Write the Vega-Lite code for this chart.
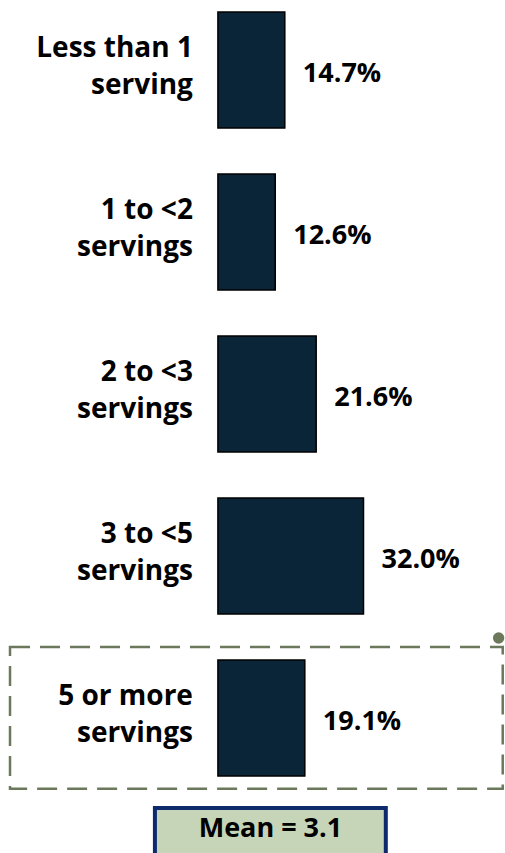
{
  "$schema": "https://vega.github.io/schema/vega-lite/v6.json",
  "padding": 0,
  "autosize": {"type": "pad"},
  "background": "white",
  "config": {"view": {"stroke": null}, "font": "Open Sans"},
  "spacing": 15,
  "vconcat": [
    {
      "width": 505,
      "height": 788,
      "data": {"values": [
        {"cat": "Less than 1|serving", "share": 0.147},
        {"cat": "1 to <2|servings", "share": 0.126},
        {"cat": "2 to <3|servings", "share": 0.216},
        {"cat": "3 to <5|servings", "share": 0.320},
        {"cat": "5 or more|servings", "share": 0.191}
      ]},
      "encoding": {
        "y": {"field": "cat", "type": "nominal", "axis": null,
              "sort": ["Less than 1|serving", "1 to <2|servings", "2 to <3|servings", "3 to <5|servings", "5 or more|servings"],
              "scale": {"paddingInner": 0.283, "paddingOuter": 0.074}}
      },
      "layer": [
        {
          "transform": [{"filter": "datum.cat === '5 or more|servings'"}],
          "mark": {"type": "bar", "height": {"band": 1.22}, "fill": "white", "fillOpacity": 0,
                   "stroke": "#6b785b", "strokeWidth": 2.5, "strokeDash": [20, 10]},
          "encoding": {
            "x": {"datum": -0.457, "type": "quantitative", "axis": null,
                  "scale": {"domain": [-0.479, 0.631], "nice": false}},
            "x2": {"datum": 0.626}
          }
        },
        {
          "transform": [{"filter": "datum.cat === '5 or more|servings'"}],
          "mark": {"type": "point", "filled": true, "size": 130, "color": "#6b785b", "opacity": 1, "yOffset": -80},
          "encoding": {
            "x": {"datum": 0.617, "type": "quantitative"}
          }
        },
        {
          "mark": {"type": "bar", "fill": "#0a2438", "stroke": "#000000", "strokeWidth": 1.5},
          "encoding": {
            "x": {"field": "share", "type": "quantitative"}
          }
        },
        {
          "mark": {"type": "text", "align": "left", "baseline": "middle", "dx": 18, "dy": 4,
                   "fontSize": 27, "fontWeight": "bold", "color": "#000000"},
          "encoding": {
            "x": {"field": "share", "type": "quantitative"},
            "text": {"field": "share", "type": "quantitative", "format": ".1%"}
          }
        },
        {
          "mark": {"type": "text", "align": "right", "baseline": "middle", "lineBreak": "|",
                   "lineHeight": 37, "fontSize": 28, "fontWeight": "bold", "color": "#000000", "dy": -21},
          "encoding": {
            "x": {"datum": -0.055, "type": "quantitative"},
            "text": {"field": "cat", "type": "nominal"}
          }
        }
      ]
    },
    {
      "width": 505,
      "height": 50,
      "data": {"values": [{"label": "Mean = 3.1"}]},
      "layer": [
        {
          "mark": {"type": "rect", "fill": "#c6d4b8", "stroke": "#0c2a6c", "strokeWidth": 4, "clip": true},
          "encoding": {
            "x": {"datum": -0.1385, "type": "quantitative", "axis": null,
                  "scale": {"domain": [-0.479, 0.631], "nice": false}},
            "x2": {"datum": 0.369},
            "y": {"datum": -0.5, "type": "quantitative", "axis": null,
                  "scale": {"domain": [0, 1], "nice": false}},
            "y2": {"datum": 0.96}
          }
        },
        {
          "mark": {"type": "text", "align": "center", "baseline": "middle", "fontSize": 27,
                   "fontWeight": "bold", "color": "#000000"},
          "encoding": {
            "x": {"datum": 0.1154, "type": "quantitative"},
            "y": {"datum": 0.54, "type": "quantitative"},
            "text": {"field": "label", "type": "nominal"}
          }
        }
      ]
    }
  ]
}
